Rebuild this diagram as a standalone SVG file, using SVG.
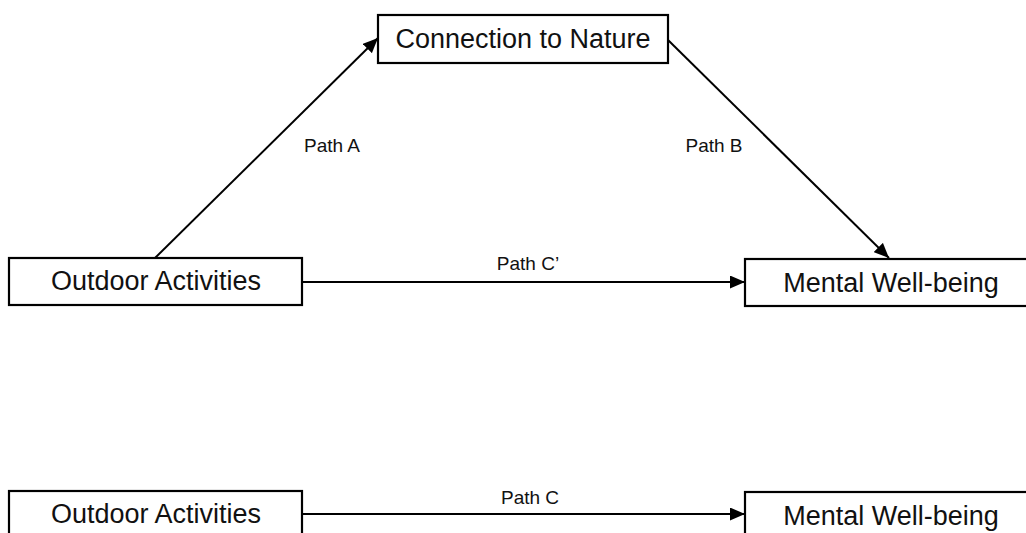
<svg xmlns="http://www.w3.org/2000/svg" width="1026" height="533" viewBox="0 0 1026 533">
  <defs>
    <marker id="arrow" viewBox="0 0 15 13" refX="15" refY="6.5" markerWidth="15" markerHeight="13" markerUnits="userSpaceOnUse" orient="auto">
      <path d="M0,0 L15,6.5 L0,13 z" fill="#000"/>
    </marker>
    <style>
      .box { fill: #fff; stroke: #000; stroke-width: 2.2; }
      .label { font-family: "Liberation Sans", Arial, sans-serif; font-size: 27px; fill: #111; text-anchor: middle; }
      .path-label { font-family: "Liberation Sans", Arial, sans-serif; font-size: 19px; fill: #111; text-anchor: middle; }
      .edge { fill: none; stroke: #000; stroke-width: 2; marker-end: url(#arrow); }
    </style>
  </defs>
  <rect width="1026" height="533" fill="#fff"/>

  <!-- connectors -->
  <g id="connectors">
    <path class="edge" d="M155,258 L378,38"/>
    <path class="edge" d="M668,40 L889,258"/>
    <path class="edge" d="M302,282 L745,282"/>
    <path class="edge" d="M302,514 L745,514"/>
    <text class="path-label" x="332" y="152">Path A</text>
    <text class="path-label" x="714" y="152">Path B</text>
    <text class="path-label" x="528" y="270">Path C’</text>
    <text class="path-label" x="530" y="504">Path C</text>
  </g>

  <!-- mediation model -->
  <g id="connection-to-nature">
    <rect class="box" x="378" y="15" width="290" height="48"/>
    <text class="label" x="523" y="48">Connection to Nature</text>
  </g>
  <g id="outdoor-activities">
    <rect class="box" x="9" y="258" width="293" height="47"/>
    <text class="label" x="156" y="290">Outdoor Activities</text>
  </g>
  <g id="mental-well-being">
    <rect class="box" x="745" y="259" width="292" height="47"/>
    <text class="label" x="891" y="292">Mental Well-being</text>
  </g>

  <!-- total effect -->
  <g id="outdoor-activities-total">
    <rect class="box" x="9" y="491" width="293" height="50"/>
    <text class="label" x="156" y="523">Outdoor Activities</text>
  </g>
  <g id="mental-well-being-total">
    <rect class="box" x="745" y="492" width="292" height="50"/>
    <text class="label" x="891" y="525">Mental Well-being</text>
  </g>
</svg>
